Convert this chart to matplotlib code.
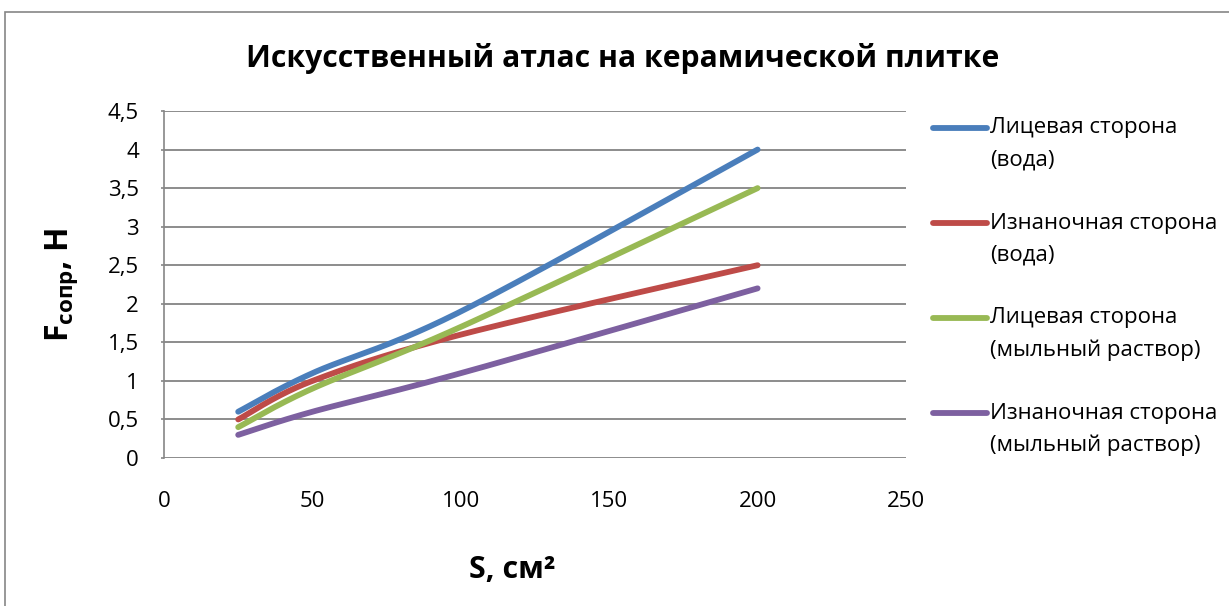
import numpy as np
import matplotlib
matplotlib.use("Agg")
import matplotlib.pyplot as plt
from matplotlib.lines import Line2D
from matplotlib.patches import Rectangle

# Contact area, cm^2
area = [25, 50, 100, 200]
# Resistance force, N
face_water = [0.6, 1.1, 1.9, 4.0]
back_water = [0.5, 1.0, 1.6, 2.5]
face_soap = [0.4, 0.9, 1.7, 3.5]
back_soap = [0.3, 0.6, 1.1, 2.2]

series_labels = [
    ("Лицевая сторона", "(вода)"),
    ("Изнаночная сторона", "(вода)"),
    ("Лицевая сторона", "(мыльный раствор)"),
    ("Изнаночная сторона", "(мыльный раствор)"),
]
series_values = [face_water, back_water, face_soap, back_soap]
series_colors = ["#4A7EBB", "#BE4B48", "#98B954", "#7D60A0"]

x_ticks = [0, 50, 100, 150, 200, 250]
y_ticks = [0, 0.5, 1, 1.5, 2, 2.5, 3, 3.5, 4, 4.5]
y_tick_labels = ["0", "0,5", "1", "1,5", "2", "2,5", "3", "3,5", "4", "4,5"]

title = "Искусственный атлас на керамической плитке"

plt.rcParams["font.family"] = ["Open Sans", "DejaVu Sans"]
plt.rcParams["mathtext.fontset"] = "custom"
plt.rcParams["mathtext.rm"] = "Open Sans"
plt.rcParams["mathtext.bf"] = "Open Sans:bold"


def smooth_curve(xs, ys, n=60):
    """Piecewise cubic Bezier through the points (Catmull-Rom style tangents)."""
    P = np.column_stack([xs, ys]).astype(float)
    parts = []
    t = np.linspace(0, 1, n)[:, None]
    for i in range(len(P) - 1):
        p_prev = P[i - 1] if i > 0 else P[i]
        p_next = P[i + 2] if i + 2 < len(P) else P[i + 1]
        c1 = P[i] + (P[i + 1] - p_prev) / 6.0
        c2 = P[i + 1] - (p_next - P[i]) / 6.0
        seg = ((1 - t) ** 3) * P[i] + 3 * ((1 - t) ** 2) * t * c1 \
            + 3 * (1 - t) * (t ** 2) * c2 + (t ** 3) * P[i + 1]
        parts.append(seg if i == 0 else seg[1:])
    return np.vstack(parts)


W, H = 1229, 606
fig = plt.figure(figsize=(W / 100, H / 100), dpi=100)
fig.patch.set_facecolor("white")

# chart frame
fig.add_artist(Rectangle((5 / W, -0.1), 1.2, 1 - 12 / H + 0.1,
                         transform=fig.transFigure, fill=False,
                         edgecolor="#868686", linewidth=1.2))

ax = fig.add_axes([164 / W, 1 - 458 / H, 742 / W, 347 / H])
ax.set_xlim(0, 250)
ax.set_ylim(0, 4.5)

for s in ["top", "right", "bottom"]:
    ax.spines[s].set_visible(False)
ax.spines["left"].set_color("#868686")
ax.spines["left"].set_linewidth(1.2)

ax.set_yticks(y_ticks)
ax.set_yticklabels(y_tick_labels)
ax.set_xticks(x_ticks)
ax.set_xticklabels([str(v) for v in x_ticks])
ax.tick_params(axis="y", length=2.5, width=1.2, color="#868686", pad=15.5,
               labelsize=16)
ax.tick_params(axis="x", length=0, pad=24, labelsize=16)

ax.yaxis.grid(True, color="#8C8C8C", linewidth=1.4)
ax.set_axisbelow(True)

for vals, col in zip(series_values, series_colors):
    c = smooth_curve(area, vals)
    ax.plot(c[:, 0], c[:, 1], color=col, linewidth=4.2,
            solid_capstyle="round", zorder=3)

fig.text(623 / W, 1 - 58 / H, title, ha="center", va="center",
         fontsize=21.7, fontweight="bold")

fig.text(512 / W, 1 - 570 / H, "S, см²", ha="center", va="center",
         fontsize=22, fontweight="bold")

fig.text(62 / W, 1 - 285 / H, r"$\mathbf{F}_{\mathbf{сопр}}$, Н",
         ha="center", va="center", rotation=90, fontsize=23,
         fontweight="bold")

# legend
y0, step, line_gap = 128, 95, 32
for k, ((l1, l2), col) in enumerate(zip(series_labels, series_colors)):
    yy = y0 + k * step
    fig.add_artist(Line2D([933 / W, 987 / W], [1 - yy / H, 1 - yy / H],
                          transform=fig.transFigure, color=col,
                          linewidth=4.2, solid_capstyle="round"))
    fig.text(990 / W, 1 - yy / H, l1, ha="left", va="center", fontsize=16)
    fig.text(990 / W, 1 - (yy + line_gap) / H, l2, ha="left", va="center",
             fontsize=16)

fig.savefig("out.png", dpi=100, facecolor="white")
